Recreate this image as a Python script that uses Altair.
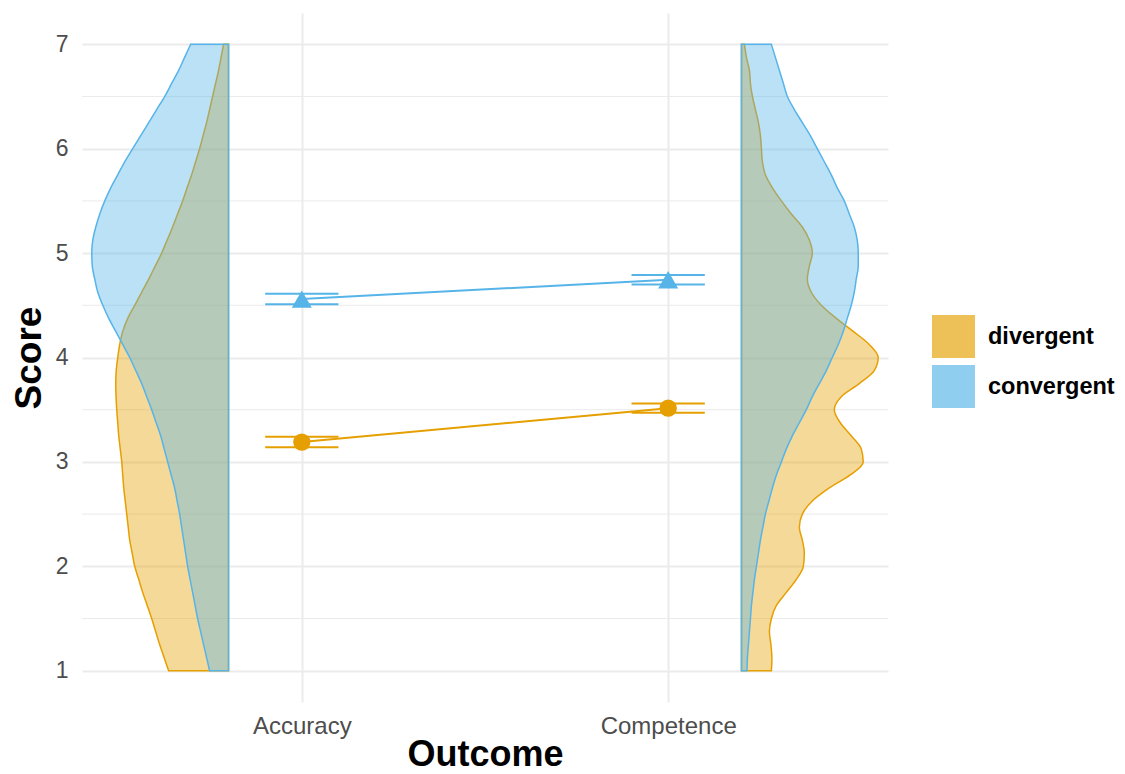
import altair as alt
import pandas as pd

# ---------------- data ----------------
outcomes = ["Accuracy", "Competence"]
groups = ["divergent", "convergent"]
palette = ["#E69F00", "#56B4E9"]
shapes = ["circle", "triangle-up"]
point_sizes = [300, 400]

# Score values at which the violin densities were read
score_grid = [1.0, 1.125, 1.25, 1.375, 1.5, 1.625, 1.75, 1.875,
              2.0, 2.125, 2.25, 2.375, 2.5, 2.625, 2.75, 2.875,
              3.0, 3.125, 3.25, 3.375, 3.5, 3.625, 3.75, 3.875,
              4.0, 4.125, 4.25, 4.375, 4.5, 4.625, 4.75, 4.875,
              5.0, 5.125, 5.25, 5.375, 5.5, 5.625, 5.75, 5.875,
              6.0, 6.125, 6.25, 6.375, 6.5, 6.625, 6.75, 6.875, 7.0]

# half-violin densities (arbitrary units)
dens_acc_div = [60, 64.5, 69, 73, 77, 81.5, 86, 90,
                94, 96.5, 99, 100.5, 102, 103.5, 105, 106,
                107, 108.5, 110, 111, 112, 112.7, 113, 112.5,
                111, 109, 106, 101, 94, 87, 80, 73.5,
                67, 61.5, 56, 51, 46, 41.5, 37, 33,
                29, 25.5, 22, 19, 16, 13, 10, 7.5, 5]
dens_acc_conv = [19, 22, 25, 28, 31, 33.5, 36, 38.5,
                 41, 43, 45, 47, 49, 51.5, 54, 57.5,
                 61, 64.5, 68, 72.5, 77, 82, 87, 93,
                 99, 106, 113, 120, 126, 131, 134, 136.5,
                 137, 136, 133, 129, 124, 118, 111, 104,
                 96, 88, 80, 72, 64, 57, 50, 44, 38]
dens_comp_div = [30, 30.5, 29.5, 28, 30, 35, 45, 55,
                 62, 63, 61, 58, 61, 71, 88, 109,
                 122, 120, 110, 99, 93, 100, 118, 133,
                 137, 128, 112, 95, 80, 70, 66, 68,
                 71, 68, 61, 50, 40, 31, 24, 21,
                 20, 19, 17, 14, 11, 9, 8, 5, 3]
dens_comp_conv = [5.5, 6, 7, 8, 9, 10, 11.5, 13,
                  15, 17, 19, 21.5, 24, 27.5, 31, 35,
                  40, 45, 51, 58, 65, 71, 78, 85,
                  91, 97, 102, 106, 110, 113, 115, 117,
                  117, 116, 113, 108, 103, 96, 90, 83,
                  76, 69, 61, 53, 46, 42, 38, 34, 30]

# means and error-bar limits, per outcome
mean_div = [3.19, 3.515]
lo_div = [3.14, 3.47]
hi_div = [3.24, 3.56]
mean_conv = [4.56, 4.745]
lo_conv = [4.51, 4.70]
hi_conv = [4.61, 4.79]

y_major = [1, 2, 3, 4, 5, 6, 7]
y_minor = [1.5, 2.5, 3.5, 4.5, 5.5, 6.5]

# ---------------- layout constants (style) ----------------
NUDGE = 0.2          # violins are offset from the category centre
VSCALE = 1 / 367.0   # density -> x-axis units
EBW = 0.1            # half width of error bar caps

# ---------------- tables ----------------
rows = []
for outcome, group, dens in [("Accuracy", "divergent", dens_acc_div),
                             ("Accuracy", "convergent", dens_acc_conv),
                             ("Competence", "divergent", dens_comp_div),
                             ("Competence", "convergent", dens_comp_conv)]:
    pos = outcomes.index(outcome) + 1
    side = -1 if outcome == "Accuracy" else 1
    base = pos + side * NUDGE
    for s, d in zip(score_grid, dens):
        rows.append(dict(outcome=outcome, group=group, score=s,
                         x=base + side * d * VSCALE, x2=base))
vdf = pd.DataFrame(rows)

srows = []
for group, m, lo, hi in [("divergent", mean_div, lo_div, hi_div),
                         ("convergent", mean_conv, lo_conv, hi_conv)]:
    for i, outcome in enumerate(outcomes):
        srows.append(dict(outcome=outcome, group=group,
                          pos=i + 1, mean=m[i], lo=lo[i], hi=hi[i],
                          xl=i + 1 - EBW, xr=i + 1 + EBW))
sdf = pd.DataFrame(srows)
cap_df = pd.concat([sdf.assign(cap=sdf["lo"], end="lo"),
                    sdf.assign(cap=sdf["hi"], end="hi")], ignore_index=True)

minor_df = pd.DataFrame({"v": y_minor})

# ---------------- shared encodings ----------------
FONT = "Liberation Sans"
label_expr = " : ".join(
    [f"datum.value == {i + 1} ? '{o}'" for i, o in enumerate(outcomes[:-1])]
    + [f"'{outcomes[-1]}'"])
stroke_expr = (f"datum.value == '{groups[0]}' ? '{palette[0]}' : "
               f"'{palette[1]}'")

x_axis = alt.Axis(values=[1, 2], labelExpr=label_expr, title="Outcome",
                  grid=True, gridColor="#EBEBEB", gridWidth=2,
                  ticks=False, domain=False, labelFontSize=24,
                  labelColor="#4D4D4D", labelPadding=12,
                  titleFontSize=36, titleFontWeight="bold",
                  titleColor="black", titlePadding=-1)
y_axis = alt.Axis(values=y_major, title="Score", grid=True,
                  gridColor="#EBEBEB", gridWidth=2, ticks=False,
                  domain=False, labelFontSize=23, labelColor="#4D4D4D",
                  labelPadding=14, titleFontSize=37, titleFontWeight="bold",
                  titleColor="black", titlePadding=7)
x_scale = alt.Scale(domain=[0.4, 2.6], nice=False, zero=False)
y_scale = alt.Scale(domain=[0.7, 7.3], nice=False, zero=False)
col_scale = alt.Scale(domain=groups, range=palette)

legend_kw = dict(title=None, orient="none", legendX=850, legendY=302,
                 symbolType="square", symbolSize=1681,
                 symbolStrokeWidth=2, labelFontSize=23.5,
                 labelFontWeight="bold", labelColor="black",
                 labelFont=FONT, labelOffset=13, rowPadding=1, padding=0)


def X(field):
    return alt.X(field, type="quantitative", scale=x_scale, axis=x_axis)


def Y(field):
    return alt.Y(field, type="quantitative", scale=y_scale, axis=y_axis)


def build(legend):
    color = alt.Color("group:N", scale=col_scale, legend=legend)
    stroke = alt.Stroke("group:N", scale=col_scale, legend=legend)

    minor = alt.Chart(minor_df).mark_rule(color="#EBEBEB", strokeWidth=1).encode(
        y=Y("v"))

    violins = []
    for g in groups:
        violins.append(
            alt.Chart(vdf[vdf["group"] == g]).mark_area(
                orient="horizontal", interpolate="monotone",
                fillOpacity=0.4, strokeWidth=1.5
            ).encode(
                y=Y("score"), x=X("x"), x2="x2:Q",
                color=color, stroke=stroke, detail="outcome:N")
        )

    lines = alt.Chart(sdf).mark_line(strokeWidth=2).encode(
        x=X("pos"), y=Y("mean"), color=color)

    vbars = alt.Chart(sdf).mark_rule(strokeWidth=2).encode(
        x=X("pos"), y=Y("lo"), y2="hi:Q", color=color)

    caps = alt.Chart(cap_df).mark_rule(strokeWidth=2).encode(
        x=X("xl"), x2="xr:Q", y=Y("cap"), color=color)

    point_layers = []
    for g, shp, sz in zip(groups, shapes, point_sizes):
        point_layers.append(
            alt.Chart(sdf[sdf["group"] == g]).mark_point(
                filled=True, opacity=1, shape=shp, size=sz
            ).encode(x=X("pos"), y=Y("mean"), color=color)
        )

    return alt.layer(minor, *violins, lines, vbars, caps, *point_layers).properties(
        width=806, height=689,
        padding={"left": 2, "top": 5, "right": 0, "bottom": 0},
        background="white"
    ).configure(font=FONT).configure_view(strokeWidth=0)


sym_props = {"fillOpacity": {"value": 0.6},
             "stroke": {"signal": stroke_expr},
             "strokeOpacity": {"value": 1},
             "strokeWidth": {"value": 2}}
try:
    chart = build(alt.Legend(
        **legend_kw,
        encode={"symbols": {"enter": sym_props, "update": sym_props}}))
    chart.to_dict()
except Exception:
    chart = build(alt.Legend(**legend_kw, symbolOpacity=0.65))

chart.save("out.html", embed_options={"renderer": "svg", "actions": False})
